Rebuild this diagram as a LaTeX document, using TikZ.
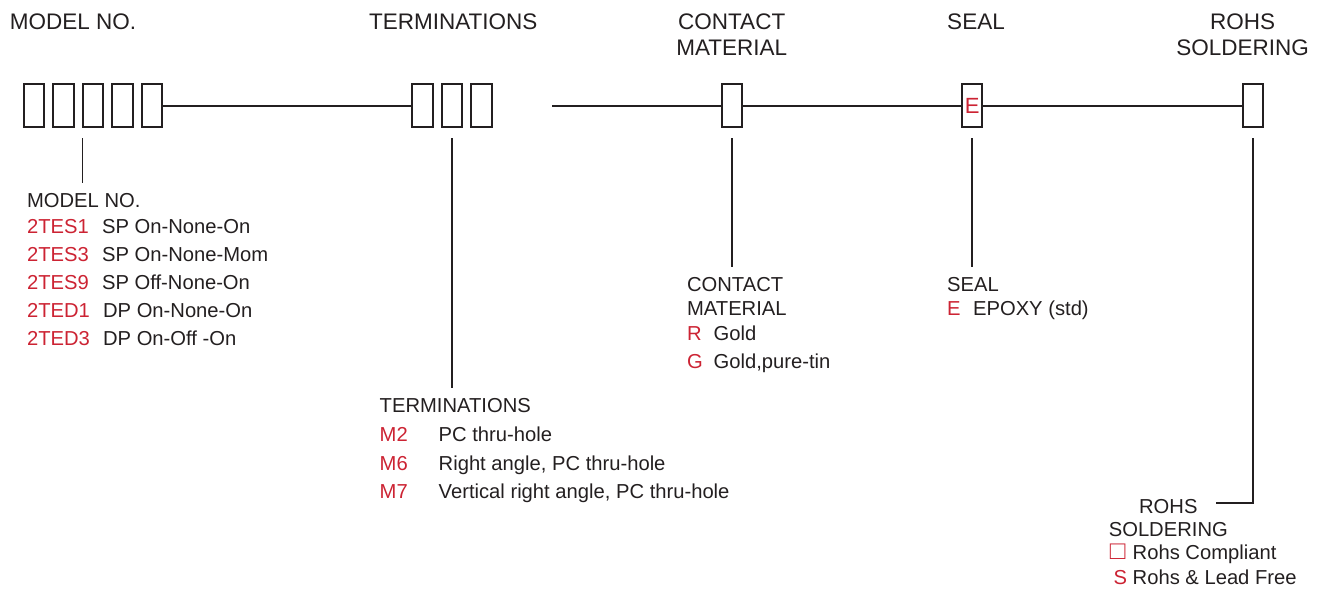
\documentclass[tikz,border=0pt]{standalone}
\usepackage{fontspec}
\setmainfont{Liberation Sans}
\usetikzlibrary{positioning}
\definecolor{ink}{RGB}{35,31,32}
\definecolor{codered}{RGB}{204,35,51}

\tikzset{
  cell/.style={draw=ink, line width=1pt, minimum width=10.25pt, minimum height=21.2pt, inner sep=0pt, outer sep=0pt},
  bus/.style={draw=ink, line width=1pt},
  lead/.style={draw=ink, line width=0.8pt},
  title/.style={text=ink, font=\fontsize{11.25}{13}\selectfont, align=center, inner sep=0pt, anchor=north},
  head/.style={text=ink, font=\fontsize{10.1}{11.7}\selectfont, inner sep=0pt, anchor=base west},
  code/.style={head, text=codered},
}

\begin{document}
\begin{tikzpicture}[x=0.5pt, y=-0.5pt]
	\useasboundingbox (0,0) rectangle (1322,590);

	% titles
	\node [title] (tmodel) at (73,13.3) {MODEL NO.};
	\node [title] (tterm) at (453.3,13.3) {TERMINATIONS};
	\node [title] (tcontact) at (731.7,13.3) {CONTACT\\MATERIAL};
	\node [title] (tseal) at (976,13.3) {SEAL};
	\node [title] (trohs) at (1242.5,13.3) {ROHS\\SOLDERING};

	% code boxes
	\node [cell] (m1) at (33.8,105.5) {};
	\node [cell, right=4.5pt of m1] (m2) {};
	\node [cell, right=4.5pt of m2] (m3) {};
	\node [cell, right=4.5pt of m3] (m4) {};
	\node [cell, right=4.5pt of m4] (m5) {};
	\node [cell] (t1) at (422.5,105.5) {};
	\node [cell, right=4.5pt of t1] (t2) {};
	\node [cell, right=4.5pt of t2] (t3) {};
	\node [cell] (cm) at (732.2,105.5) {};
	\node [cell, text=codered, font=\fontsize{11}{12}\selectfont] (sl) at (972.2,105.5) {E};
	\node [cell] (rs) at (1253,105.5) {};
	\coordinate (gap) at (552.3,105.5);

	\draw [bus] (m5) -- (t1);
	\draw [bus] (gap) -- (cm);
	\draw [bus] (cm) -- (sl);
	\draw [bus] (sl) -- (rs);

	% model no.
	\node [head] (mhead) at (26.7,207.7) {MODEL NO.};
	\node [code] (c1) at (26.7,233.3) {2TES1};
	\node [code] (c2) at (26.7,261) {2TES3};
	\node [code] (c3) at (26.7,289) {2TES9};
	\node [code] (c4) at (26.7,317.3) {2TED1};
	\node [code] (c5) at (26.7,345) {2TED3};
	\node [head] (d1) at (101.7,233.3) {SP On-None-On};
	\node [head] (d2) at (101.7,261) {SP On-None-Mom};
	\node [head] (d3) at (101.7,289) {SP Off-None-On};
	\node [head] (d4) at (102.7,317.3) {DP On-None-On};
	\node [head] (d5) at (102.7,345) {DP On-Off -On};

	% terminations
	\node [head] (thead) at (379.3,412.7) {TERMINATIONS};
	\node [code] (k1) at (379.3,441.7) {M2};
	\node [code] (k2) at (379.3,470) {M6};
	\node [code] (k3) at (379.3,498.3) {M7};
	\node [head] (e1) at (438.3,441.7) {PC thru-hole};
	\node [head] (e2) at (438.3,470) {Right angle, PC thru-hole};
	\node [head] (e3) at (438.3,498.3) {Vertical right angle, PC thru-hole};

	% contact material
	\node [head, align=left, anchor=north west] (chead) at (686.7,277.2) {CONTACT\\MATERIAL};
	\node [code] (r1) at (686.7,340) {R};
	\node [code] (r2) at (686.7,368.3) {G};
	\node [head] (g1) at (713.3,340) {Gold};
	\node [head] (g2) at (713.3,368.3) {Gold,pure-tin};

	% seal
	\node [head] (shead) at (946.7,291.7) {SEAL};
	\node [code] (s1) at (946.7,315) {E};
	\node [head] (p1) at (972.7,315) {EPOXY (std)};

	% rohs soldering
	\node [head, align=center, anchor=north] (rhead) at (1168.3,499) {ROHS\\SOLDERING};
	\node [code, font=\fontsize{13}{14}\selectfont] (q1) at (1109.5,559.8) {□};
	\node [code] (q2) at (1113.3,584) {S};
	\node [head] (h1) at (1132.3,559.3) {Rohs Compliant};
	\node [head] (h2) at (1132.3,584) {Rohs \& Lead Free};
	\coordinate (rend) at (1215.7,503.3);

	% leads
	\draw [lead, shorten <=5.75pt, shorten >=5pt] (m3.south west) -- (m3.south west |- mhead.north);
	\draw [lead, shorten <=5.75pt, shorten >=5pt] (t2.south) -- (t2.south |- thead.north);
	\draw [lead, shorten <=5.75pt, shorten >=5pt] (cm.south) -- (cm.south |- chead.north);
	\draw [lead, shorten <=5.75pt, shorten >=5pt] (sl.south) -- (sl.south |- shead.north);
	\draw [lead, line width=1pt] ([yshift=-5.75pt]rs.south) |- (rend);
\end{tikzpicture}
\end{document}
